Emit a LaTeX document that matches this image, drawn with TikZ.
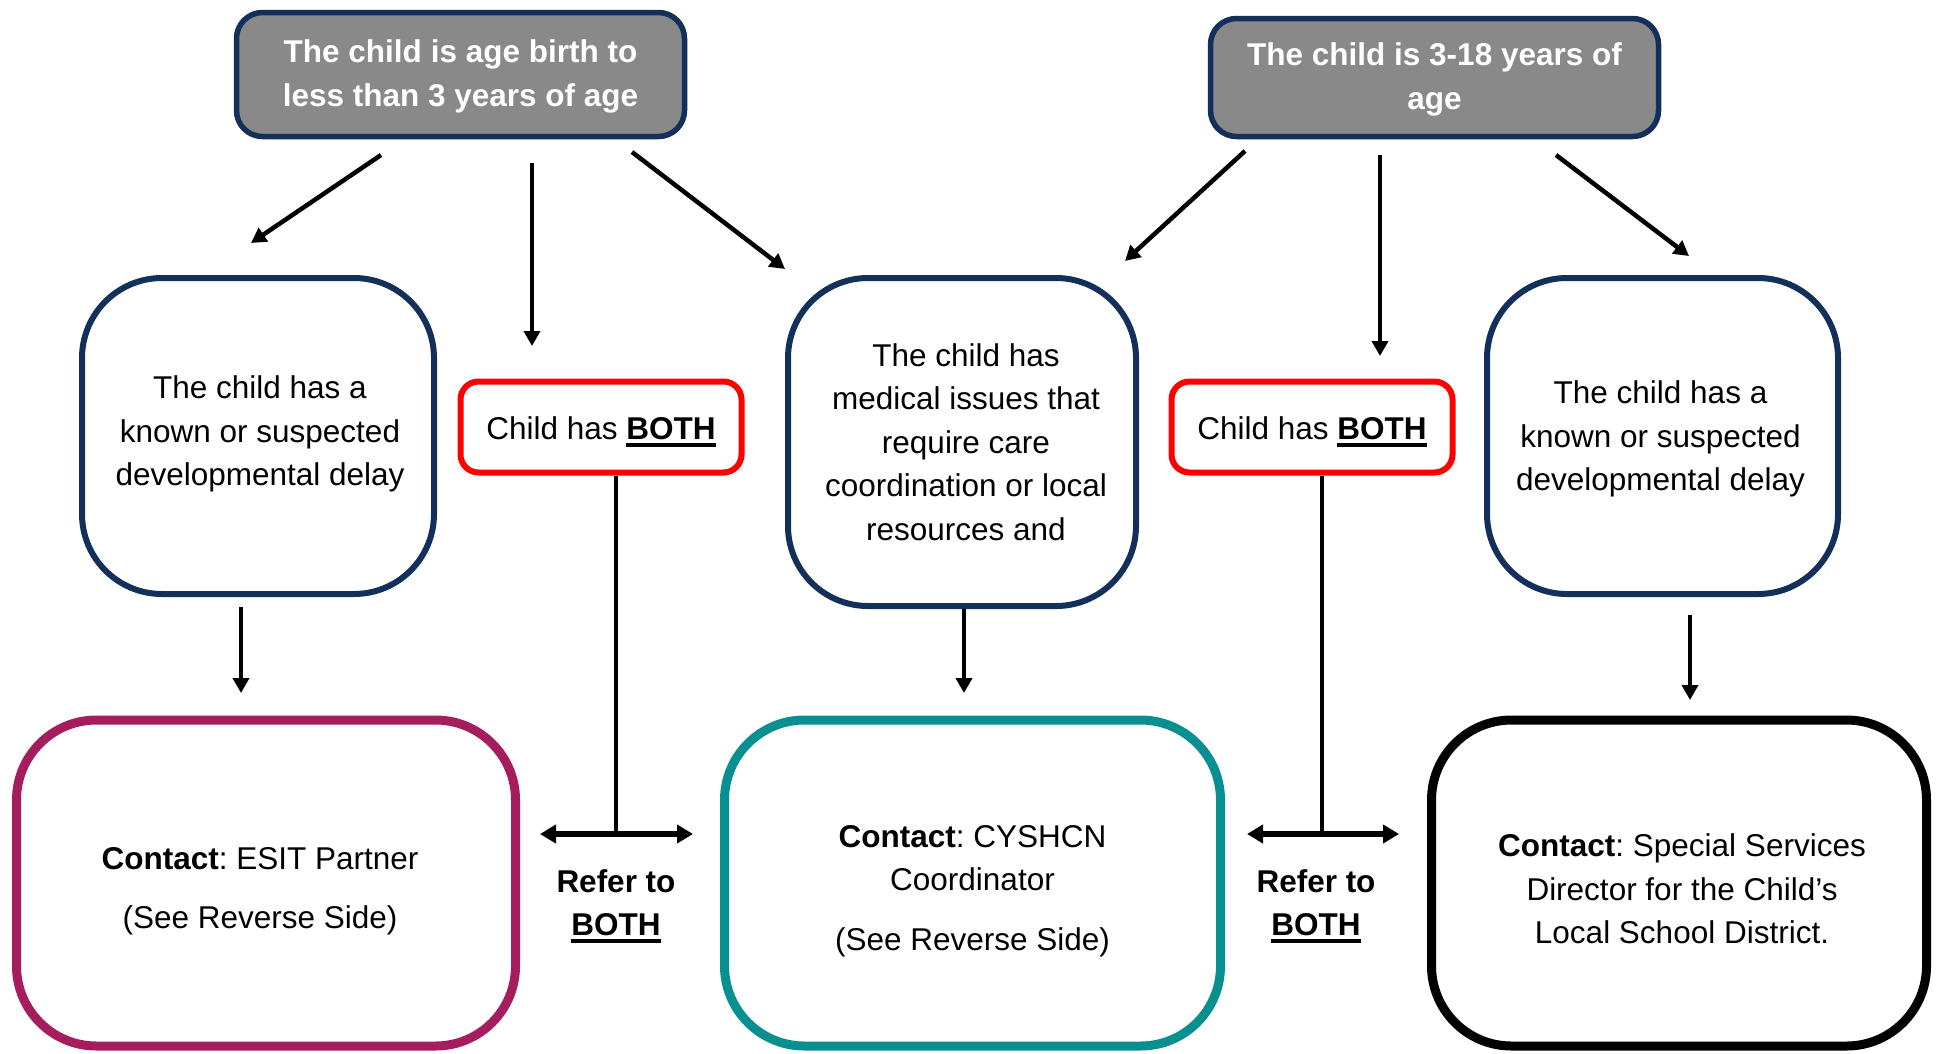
\documentclass[tikz,border=0pt]{standalone}
\usepackage{fontspec}
\setmainfont{Liberation Sans}
\usetikzlibrary{arrows.meta}
\definecolor{navy}{HTML}{12305A}
\definecolor{boxgray}{HTML}{898989}
\definecolor{magentaB}{HTML}{A51D5C}
\definecolor{tealB}{HTML}{07908F}
\definecolor{redB}{HTML}{FF0000}
\newcommand\myul[1]{\setbox0\hbox{#1}\rlap{\raisebox{-7pt}{\rule{\wd0}{3.5pt}}}\box0}
\frenchspacing
\begin{document}
\begin{tikzpicture}[x=1pt,y=-1pt,
  every node/.style={font=\fontsize{31.5}{43.5}\selectfont, align=center, inner sep=0pt},
  topbox/.style={draw=navy, fill=boxgray, line width=5.5pt, rounded corners=26pt},
  toptxt/.style={text=white, font=\fontsize{31.5}{44}\selectfont\bfseries},
  midbox/.style={draw=navy, line width=6pt, rounded corners=80pt},
  redbox/.style={draw=redB, line width=6pt, rounded corners=18pt, minimum width=281pt, minimum height=91pt},
  contactbox/.style={line width=9pt, rounded corners=80pt, minimum height=326pt},
  arr/.style={line width=4.5pt, -{Triangle[length=15pt,width=16pt]}},
  dbl/.style={line width=6pt, {Triangle[length=16pt,width=18pt]}-{Triangle[length=16pt,width=18pt]}},
  plain/.style={line width=4.5pt}
]
\fill[white] (0,0) rectangle (1942,1053);
\useasboundingbox (0,0) rectangle (1942,1053);

% top boxes
\node[topbox, minimum width=448pt, minimum height=124pt] (t1) at (460.5,74.5) {};
\node[toptxt] (t1t) at ([yshift=-2pt]t1.center) {The child is age birth to\\less than 3 years of age};
\node[topbox, minimum width=448pt, minimum height=118pt] (t2) at (1434.5,77.5) {};
\node[toptxt] (t2t) at ([yshift=-2pt]t2.center) {The child is 3-18 years of\\age};

% middle boxes
\node[midbox, minimum width=352pt, minimum height=316pt] (m1) at (258,436) {};
\node (m1t) at ([xshift=2pt,yshift=2pt]m1.center) {The child has a\\known or suspected\\developmental delay};
\node[midbox, minimum width=348pt, minimum height=328pt] (m2) at (962,442) {};
\node (m2t) at ([xshift=4pt]m2.center) {The child has\\medical issues that\\require care\\coordination or local\\resources and};
\node[midbox, minimum width=351pt, minimum height=316pt] (m3) at (1662.5,436) {};
\node (m3t) at ([xshift=-2pt,yshift=-3pt]m3.center) {The child has a\\known or suspected\\developmental delay};

% red boxes
\node[redbox] (b1) at (601,427) {};
\node (b1t) at ([yshift=-5pt]b1.center) {Child has \myul{\textbf{BOTH}}};
\node[redbox] (b2) at (1312,427) {};
\node (b2t) at ([yshift=-5pt]b2.center) {Child has \myul{\textbf{BOTH}}};

% contact boxes
\node[contactbox, draw=magentaB, minimum width=499pt] (c1) at (266,883) {};
\node (c1t) at ([xshift=-6pt,yshift=-8pt]c1.center) {\textbf{Contact}: ESIT Partner\\[15pt](See Reverse Side)};
\node[contactbox, draw=tealB, minimum width=496pt] (c2) at (972.5,883) {};
\node (c2t) at ([yshift=-8pt]c2.center) {\textbf{Contact}: CYSHCN\\Coordinator\\[16pt](See Reverse Side)};
\node[contactbox, draw=black, minimum width=495pt] (c3) at (1679,883) {};
\node (c3t) at ([xshift=3pt,yshift=-6pt]c3.center) {\textbf{Contact}: Special Services\\Director for the Child’s\\Local School District.};

% refer labels
\node (r1) at (616,906) {\textbf{Refer to}\\\myul{\textbf{BOTH}}};
\node (r2) at (1316,906) {\textbf{Refer to}\\\myul{\textbf{BOTH}}};

% arrows from top-left box
\coordinate (a1s) at (381,155); \coordinate (a1e) at (251,243);
\coordinate (a2s) at (532,163); \coordinate (a2e) at (532,346);
\coordinate (a3s) at (632,152); \coordinate (a3e) at (785,269);
\draw[arr] (a1s) -- (a1e);
\draw[arr] (a2s) -- (a2e);
\draw[arr] (a3s) -- (a3e);

% arrows from top-right box
\coordinate (a4s) at (1245,151); \coordinate (a4e) at (1125,261);
\coordinate (a5s) at (1380,155); \coordinate (a5e) at (1380,356);
\coordinate (a6s) at (1556,155); \coordinate (a6e) at (1689,256);
\draw[arr] (a4s) -- (a4e);
\draw[arr] (a5s) -- (a5e);
\draw[arr] (a6s) -- (a6e);

% arrows to contact boxes
\coordinate (a7s) at (241,607); \coordinate (a7e) at (241,693);
\coordinate (a8s) at (964,609); \coordinate (a8e) at (964,693);
\coordinate (a9s) at (1690,615); \coordinate (a9e) at (1690,700);
\draw[arr] (a7s) -- (a7e);
\draw[arr] (a8s) -- (a8e);
\draw[arr] (a9s) -- (a9e);

% BOTH connectors
\coordinate (j1) at (616,834);
\coordinate (d1l) at (540,834); \coordinate (d1r) at (693,834);
\draw[plain] (j1 |- b1.south) -- (j1);
\draw[dbl] (d1l) -- (d1r);
\coordinate (j2) at (1322,834);
\coordinate (d2l) at (1247,834); \coordinate (d2r) at (1399,834);
\draw[plain] (j2 |- b2.south) -- (j2);
\draw[dbl] (d2l) -- (d2r);
\end{tikzpicture}
\end{document}
